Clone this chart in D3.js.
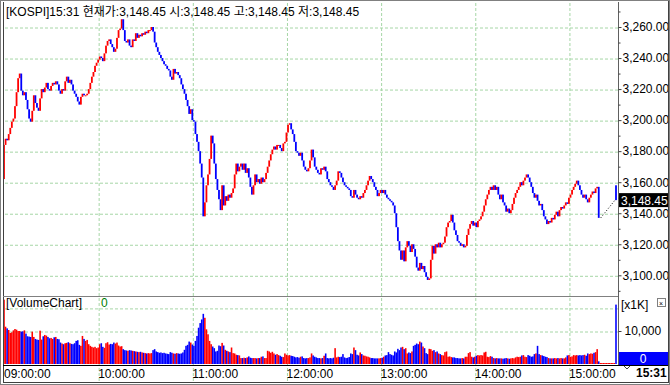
<!DOCTYPE html>
<html>
<head>
<meta charset="utf-8">
<script src="https://cdn.jsdelivr.net/npm/d3@7"></script>
<style>
  body { margin: 0; background: #fff; }
  svg { display: block; }
  text { font-family: "Liberation Sans", "Noto Sans CJK KR", sans-serif; font-size: 12px; fill: #000; }
</style>
</head>
<body>
<svg id="chart" width="670" height="385"></svg>
<script>
// KOSPI 1-minute bars, 09:00 .. 15:19 (close of each minute)
const closes = [
  3184, 3188, 3187, 3191, 3195, 3199, 3201, 3209, 3218, 3227,
  3230, 3219, 3216, 3218, 3213, 3207, 3201, 3199, 3206, 3216,
  3211, 3208, 3206, 3214, 3220, 3218, 3221, 3224, 3220, 3219,
  3222, 3224, 3223, 3225, 3223, 3219, 3217, 3220, 3219, 3225,
  3228, 3224, 3226, 3223, 3219, 3217, 3215, 3212, 3210, 3215,
  3217, 3216, 3216, 3217, 3220, 3224, 3228, 3231, 3235, 3237,
  3239, 3241, 3240, 3238, 3243, 3248, 3251, 3252, 3249, 3247,
  3244, 3246, 3253, 3258, 3259, 3265, 3258, 3251, 3250, 3252,
  3248, 3247, 3252, 3251, 3256, 3253, 3255, 3254, 3256, 3255,
  3257, 3256, 3258, 3258, 3260, 3257, 3250, 3247, 3244, 3242,
  3240, 3238, 3236, 3235, 3233, 3232, 3228, 3226, 3233, 3230,
  3231, 3229, 3227, 3223, 3220, 3217, 3213, 3209, 3204, 3207,
  3200, 3199, 3191, 3186, 3180, 3172, 3163, 3138, 3147, 3158,
  3165, 3175, 3190, 3185, 3172, 3162, 3155, 3149, 3142, 3158,
  3145, 3151, 3148, 3152, 3150, 3153, 3156, 3165, 3172, 3167,
  3170, 3172, 3168, 3172, 3166, 3169, 3163, 3157, 3152, 3158,
  3165, 3160, 3162, 3159, 3163, 3160, 3162, 3166, 3170, 3174,
  3178, 3181, 3183, 3181, 3184, 3184, 3182, 3180, 3185, 3186,
  3192, 3197, 3198, 3194, 3191, 3186, 3180, 3179, 3177, 3179,
  3174, 3170, 3168, 3167, 3169, 3174, 3181, 3176, 3170, 3168,
  3166, 3165, 3169, 3168, 3170, 3167, 3162, 3160, 3158, 3157,
  3155, 3158, 3161, 3167, 3166, 3163, 3160, 3158, 3157, 3156,
  3155, 3151, 3150, 3155, 3152, 3150, 3149, 3151, 3150, 3153,
  3155, 3158, 3161, 3164, 3162, 3160, 3157, 3155, 3151, 3153,
  3155, 3153, 3155, 3152, 3150, 3149, 3148, 3147, 3145, 3140,
  3131, 3122, 3116, 3110, 3116, 3109, 3118, 3122, 3119, 3115,
  3120, 3117, 3112, 3105, 3103, 3108, 3104, 3106, 3102, 3099,
  3097, 3098, 3110, 3119, 3114, 3120, 3118, 3121, 3118, 3120,
  3121, 3125, 3131, 3134, 3135, 3139, 3134, 3129, 3126, 3122,
  3121, 3119, 3120, 3118, 3119, 3126, 3130, 3133, 3135, 3132,
  3134, 3131, 3135, 3136, 3138, 3141, 3145, 3149, 3152, 3155,
  3157, 3155, 3158, 3155, 3157, 3152, 3149, 3152, 3147, 3145,
  3141, 3143, 3140, 3142, 3146, 3150, 3153, 3155, 3157, 3160,
  3158, 3161, 3163, 3165, 3163, 3160, 3157, 3153, 3150, 3152,
  3148, 3145, 3146, 3142, 3138, 3136, 3133, 3135, 3134, 3137,
  3136, 3139, 3141, 3138, 3142, 3144, 3143, 3145, 3147, 3146,
  3150, 3152, 3155, 3157, 3159, 3161, 3158, 3155, 3152, 3150,
  3152, 3149, 3147, 3150, 3152, 3154, 3153, 3156, 3157, 3137
];
const firstOpen = 3162;
// closing auction bar at 15:30 [open, close]
const auctionBar = [3158, 3148.45];

// volume per minute in thousands, 09:00 .. 15:30
const volumes = [
  19.5, 11.3, 10.8, 10.3, 9.4, 9.6, 10.2, 10.6, 10.4, 10.0,
  10.0, 9.8, 9.9, 10.2, 9.2, 8.4, 8.3, 8.2, 9.8, 8.2,
  7.6, 7.4, 7.3, 10.1, 7.4, 8.4, 8.8, 8.6, 8.2, 7.8,
  7.9, 7.6, 8.1, 8.2, 7.6, 7.5, 6.5, 6.2, 6.0, 6.3,
  6.4, 6.6, 6.3, 6.1, 6.0, 6.3, 7.0, 7.2, 5.8, 5.5,
  8.5, 7.6, 7.0, 7.3, 6.0, 5.5, 5.2, 5.0, 5.2, 4.8,
  5.0, 6.0, 6.3, 5.2, 4.9, 6.3, 6.6, 5.9, 6.1, 6.0,
  6.5, 6.2, 6.5, 5.6, 5.3, 5.4, 4.5, 4.2, 4.1, 4.0,
  4.2, 4.1, 4.0, 3.9, 3.8, 3.7, 3.6, 3.7, 3.5, 3.4,
  3.3, 3.2, 3.3, 3.2, 3.3, 4.2, 4.5, 3.8, 3.6, 3.4,
  3.5, 3.3, 3.4, 3.2, 3.1, 3.0, 3.6, 3.4, 3.2, 3.1,
  3.3, 3.2, 3.1, 3.2, 3.5, 4.3, 5.5, 5.8, 6.8, 6.5,
  5.9, 5.5, 7.0, 8.5, 11.0, 12.4, 13.5, 15.2, 14.0, 10.5,
  9.0, 7.0, 6.0, 5.3, 4.8, 3.8, 4.0, 5.6, 5.4, 6.4,
  5.6, 4.3, 4.0, 3.8, 3.6, 5.0, 3.3, 3.2, 2.8, 2.7,
  2.6, 1.8, 1.8, 1.9, 1.8, 2.0, 2.3, 1.9, 1.8, 1.8,
  1.8, 1.7, 1.8, 1.8, 2.2, 2.3, 1.8, 1.8, 4.0, 3.8,
  3.4, 3.7, 3.2, 2.8, 3.0, 2.7, 2.5, 2.2, 2.1, 3.2,
  2.8, 2.6, 2.7, 2.5, 2.4, 2.2, 2.0, 2.1, 1.9, 2.2,
  2.3, 1.8, 1.7, 1.8, 1.8, 2.0, 3.2, 2.6, 2.2, 2.0,
  1.8, 1.8, 1.7, 1.8, 2.5, 3.2, 1.8, 1.7, 1.8, 1.7,
  1.9, 4.8, 2.0, 2.2, 2.1, 2.2, 3.0, 2.0, 1.8, 1.9,
  2.1, 3.2, 3.0, 5.0, 4.2, 2.8, 2.6, 3.5, 3.0, 2.6,
  2.5, 2.3, 2.2, 2.0, 1.8, 1.8, 1.7, 1.7, 1.7, 1.7,
  1.8, 1.9, 2.2, 2.6, 2.7, 3.6, 3.0, 2.8, 2.6, 3.8,
  3.5, 4.6, 4.2, 5.0, 5.2, 4.5, 4.8, 3.2, 3.5, 3.3,
  3.8, 5.5, 5.8, 6.2, 6.0, 6.8, 6.5, 5.3, 4.8, 3.3,
  3.0, 4.6, 4.5, 4.0, 4.2, 3.6, 3.8, 3.2, 3.0, 2.7,
  2.6, 3.6, 3.8, 2.2, 2.3, 2.1, 2.0, 2.0, 1.8, 1.8,
  1.7, 1.7, 1.8, 1.7, 2.2, 2.2, 3.3, 3.6, 2.2, 2.0,
  2.2, 2.5, 2.7, 2.6, 2.7, 2.6, 3.5, 3.7, 2.2, 2.1,
  2.4, 2.2, 1.8, 1.7, 1.8, 1.7, 1.7, 1.7, 1.6, 1.7,
  1.8, 1.7, 1.6, 1.7, 1.8, 1.7, 2.0, 2.2, 2.1, 2.2,
  2.6, 2.7, 2.2, 2.1, 2.7, 2.5, 2.2, 2.3, 3.0, 3.2,
  5.5, 3.0, 2.7, 2.6, 2.4, 2.2, 2.1, 1.8, 1.7, 1.7,
  1.7, 1.8, 1.7, 1.8, 1.7, 1.8, 1.7, 1.7, 2.0, 2.6,
  2.7, 2.2, 2.3, 2.7, 2.6, 2.7, 2.6, 2.7, 2.6, 2.7,
  2.8, 2.5, 3.2, 3.0, 3.2, 3.1, 3.4, 3.6, 4.5, 0.8,
  0, 0, 0, 0, 0, 0, 0, 0, 0, 0,
  18.0
];

const priceTicks = [3100, 3120, 3140, 3160, 3180, 3200, 3220, 3240, 3260];
const priceMinor = [3090, 3110, 3130, 3150, 3170, 3190, 3210, 3230, 3250, 3270];
const timeTicks = [0, 60, 120, 180, 240, 300, 360];
const timeLabels = ["09:00:00", "10:00:00", "11:00:00", "12:00:00", "13:00:00", "14:00:00", "15:00:00"];
const volumeTicks = [10];
const volumeGrid = [10, 17];
const title = "[KOSPI]15:31 현재가:3,148.45 시:3,148.45 고:3,148.45 저:3,148.45";

const UP = "#ff0000", DOWN = "#0000ff", GRID = "#a6d6a6";

const svg = d3.select("#chart");
const x = d3.scaleLinear().domain([0, 390]).range([4, 616]);
const y = d3.scaleLinear().domain([3100, 3260]).range([275.3, 27]);
const yv = d3.scaleLinear().domain([0, 10]).range([364, 331]);
const step = x(1) - x(0);

// bars: open = previous close
const bars = closes.map((c, i) => ({ i, o: i === 0 ? firstOpen : closes[i - 1], c }));
const lastClose = closes[closes.length - 1];
const vbars = volumes.map((v, i) => {
    let up;
    if (i < bars.length) up = bars[i].c >= bars[i].o;
    else if (i === 390) up = auctionBar[1] >= auctionBar[0];
    else up = true;
    return { i, v, up };
});

const defs = svg.append("defs");
defs.append("clipPath").attr("id", "axisClip")
    .append("rect").attr("x", 618).attr("y", 0).attr("width", 50).attr("height", 385);
defs.append("clipPath").attr("id", "volClip")
    .append("rect").attr("x", 3).attr("y", 297).attr("width", 615).attr("height", 68);

// grid
function gridStyle(g) {
    g.select(".domain").remove();
    g.selectAll("text").remove();
    g.selectAll("line").attr("stroke", GRID).attr("stroke-dasharray", "3,2");
}
svg.append("g").attr("transform", "translate(618,0.5)")
    .call(d3.axisLeft(y).tickValues(priceTicks).tickSize(614).tickFormat(""))
    .call(gridStyle);
svg.append("g").attr("transform", "translate(618,0.5)")
    .call(d3.axisLeft(yv).tickValues(volumeGrid).tickSize(614).tickFormat(""))
    .call(gridStyle);
svg.append("g").attr("transform", "translate(0.5,381)")
    .call(d3.axisTop(x).tickValues(timeTicks.slice(1)).tickSize(379).tickFormat(""))
    .call(gridStyle);

// candles
const cw = 1.8;
svg.append("g").selectAll("rect").data(bars).enter().append("rect")
    .attr("x", d => x(d.i) - cw / 2)
    .attr("width", cw)
    .attr("y", d => y(Math.max(d.o, d.c)))
    .attr("height", d => Math.max(1, Math.abs(y(d.o) - y(d.c))))
    .attr("fill", d => d.c >= d.o ? UP : DOWN);

// auction bar and dotted link
svg.append("line")
    .attr("x1", x(379) + 2).attr("y1", y(lastClose))
    .attr("x2", x(390) - 1).attr("y2", y(auctionBar[1]))
    .attr("stroke", "#000").attr("stroke-dasharray", "1,2");
svg.append("rect")
    .attr("x", x(390) - cw / 2).attr("width", cw)
    .attr("y", y(d3.max(auctionBar)))
    .attr("height", Math.abs(y(auctionBar[0]) - y(auctionBar[1])))
    .attr("fill", auctionBar[1] >= auctionBar[0] ? UP : DOWN);

// volume bars
svg.append("g").attr("clip-path", "url(#volClip)").selectAll("rect").data(vbars).enter().append("rect")
    .attr("x", d => x(d.i) - step / 2)
    .attr("width", step)
    .attr("y", d => Math.min(yv(d.v), yv(0) - 1))
    .attr("height", d => Math.max(1, yv(0) - yv(d.v)))
    .attr("fill", d => d.up ? UP : DOWN);

// frame lines
const frame = svg.append("g").attr("fill", "none");
frame.append("rect").attr("x", 0.5).attr("y", 0.5).attr("width", 669).attr("height", 384).attr("stroke", "#808080");
frame.append("line").attr("x1", 3.5).attr("x2", 3.5).attr("y1", 2).attr("y2", 382).attr("stroke", "#404040");
frame.append("line").attr("x1", 618.5).attr("x2", 618.5).attr("y1", 2).attr("y2", 365).attr("stroke", "#606060");
frame.append("line").attr("x1", 3).attr("x2", 618).attr("y1", 296.5).attr("y2", 296.5).attr("stroke", "#808080");
frame.append("line").attr("x1", 3).attr("x2", 668).attr("y1", 365.5).attr("y2", 365.5).attr("stroke", "#000");
frame.append("line").attr("x1", 3).attr("x2", 668).attr("y1", 382.5).attr("y2", 382.5).attr("stroke", "#404040");
frame.append("line").attr("x1", 668.5).attr("x2", 668.5).attr("y1", 1).attr("y2", 383).attr("stroke", "#404040");

// price axis (labels clipped at the right edge like the original)
const pAxis = svg.append("g").attr("clip-path", "url(#axisClip)")
    .append("g").attr("transform", "translate(618.5,0)")
    .call(d3.axisRight(y).tickValues(priceTicks).tickSize(3).tickPadding(1).tickFormat(d3.format(",.2f")));
pAxis.select(".domain").remove();
pAxis.selectAll("text").style("font-size", "12px").attr("fill", "#000");
pAxis.selectAll("line").attr("stroke", "#404040");
const mAxis = svg.append("g").attr("transform", "translate(618.5,0)")
    .call(d3.axisRight(y).tickValues(priceMinor.filter(v => y(v) > 4 && y(v) < 292)).tickSize(2).tickFormat(""));
mAxis.select(".domain").remove();
mAxis.selectAll("line").attr("stroke", "#404040");

// current price tag
const cy = y(auctionBar[1]);
svg.append("rect").attr("x", 619).attr("y", cy - 7).attr("width", 49).attr("height", 14).attr("fill", "#000");
svg.append("text").attr("x", 621).attr("y", cy + 4.5).style("fill", "#fff")
    .text(d3.format(",.2f")(auctionBar[1]));

// volume axis
const vAxis = svg.append("g").attr("transform", "translate(618.5,0)")
    .call(d3.axisRight(yv).tickValues(volumeTicks).tickSize(3).tickPadding(3).tickFormat(d => d3.format(",")(d * 1000)));
vAxis.select(".domain").remove();
vAxis.selectAll("text").style("font-size", "12px").attr("fill", "#000");
vAxis.selectAll("line").attr("stroke", "#404040");
svg.append("text").attr("x", 621).attr("y", 309).text("[x1K]");
svg.append("rect").attr("x", 657.5).attr("y", 298.5).attr("width", 8).attr("height", 8)
    .attr("fill", "#fff").attr("stroke", "#808080");
svg.append("text").attr("x", 659).attr("y", 305.5).style("font-size", "7px").text("×");
svg.append("rect").attr("x", 619).attr("y", 352).attr("width", 49).attr("height", 13).attr("fill", DOWN);
svg.append("text").attr("x", 643).attr("y", 362.5).attr("text-anchor", "middle").style("fill", "#fff").text("0");

// panel labels
svg.append("text").attr("x", 6).attr("y", 16).text(title);
svg.append("text").attr("x", 6).attr("y", 307).text("[VolumeChart]");
svg.append("text").attr("x", 101).attr("y", 307).style("fill", "#008000").text("0");

// time labels
svg.append("g").selectAll("text").data(timeTicks).enter().append("text")
    .attr("x", d => x(d))
    .attr("y", 378)
    .text((d, i) => timeLabels[i]);
svg.append("text").attr("x", 636).attr("y", 377).style("font-weight", "bold").text("15:31");
svg.append("path").attr("d", "M624,366 l3,3 l3,-3").attr("fill", "none").attr("stroke", "#404040");
</script>
</body>
</html>
